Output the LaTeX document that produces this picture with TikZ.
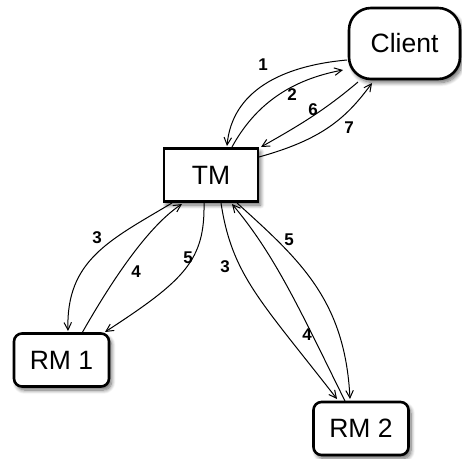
\documentclass[tikz,border=0pt]{standalone}
\usepackage{fontspec}
\setmainfont{Liberation Sans}
\usetikzlibrary{arrows.meta,shadows.blur}

\tikzset{
  box/.style={draw=black, line width=2.6pt, fill=white,
    font=\fontsize{26.5}{30}\selectfont, inner sep=0pt,
    blur shadow={shadow xshift=2.5pt, shadow yshift=-3.5pt,
      shadow blur radius=4pt, shadow blur steps=8, shadow opacity=60}},
  rmbox/.style={box, rounded corners=8pt, minimum width=95pt, minimum height=53pt},
  msg/.style={line width=1pt, -{Straight Barb[length=7.5pt,width=7.5pt,line width=1pt]}},
  num/.style={font=\fontsize{17}{19}\selectfont\bfseries, inner sep=0pt}
}

\begin{document}
\begin{tikzpicture}[x=1pt, y=-1pt]
  \useasboundingbox (0,0) rectangle (462,458);

  % participants
  \node[box, rounded corners=22pt, minimum width=111pt, minimum height=71pt]
    (client) at (404.5,43.5) {Client};
  \node[box, minimum width=94pt, minimum height=53pt] (tm) at (211,175) {TM};
  \node[rmbox] (rm1) at (61.5,360) {RM 1};
  \node[rmbox] (rm2) at (361,428.5) {RM 2};

  % anchor points on the box borders
  \coordinate (c1) at (347,60);
  \coordinate (c2) at (343,70);
  \coordinate (c6) at (358,82);
  \coordinate (c7) at (372,83);
  \coordinate (t1) at (227,146);
  \coordinate (t2) at (232,147);
  \coordinate (t6) at (261,147);
  \coordinate (t7) at (259,157);
  \coordinate (b3a) at (172,203);
  \coordinate (b4a) at (182,204);
  \coordinate (b5a) at (204,203);
  \coordinate (b3b) at (221,203);
  \coordinate (b4b) at (232,204);
  \coordinate (b5b) at (237,203);
  \coordinate (r13) at (68,331);
  \coordinate (r14) at (82,333);
  \coordinate (r15) at (105,332);
  \coordinate (r23) at (337,399);
  \coordinate (r24) at (345,401);
  \coordinate (r25) at (350,399);

  % client <-> TM
  \draw[msg] (c1) .. controls (280,66) and (232,92) .. (t1);
  \draw[msg] (t2) .. controls (255,105) and (290,80) .. (c2);
  \draw[msg] (c6) .. controls (325,110) and (300,125) .. (t6);
  \draw[msg] (t7) .. controls (320,140) and (345,120) .. (c7);

  % TM <-> RM 1
  \draw[msg] (b3a) .. controls (110,240) and (66,260) .. (r13);
  \draw[msg] (r14) .. controls (115,275) and (150,225) .. (b4a);
  \draw[msg] (b5a) .. controls (205,260) and (185,280) .. (r15);

  % TM <-> RM 2
  \draw[msg] (b3b) .. controls (232,275) and (260,300) .. (r23);
  \draw[msg] (r24) .. controls (300,310) and (275,255) .. (b4b);
  \draw[msg] (b5b) .. controls (300,260) and (345,300) .. (r25);

  % message numbers
  \node[num] (n1)  at (263,65)  {1};
  \node[num] (n2)  at (292,95)  {2};
  \node[num] (n6)  at (313,110) {6};
  \node[num] (n7)  at (349,128) {7};
  \node[num] (n3a) at (97,238)  {3};
  \node[num] (n4a) at (136,272) {4};
  \node[num] (n5a) at (188,258) {5};
  \node[num] (n3b) at (225,267) {3};
  \node[num] (n5b) at (289,240) {5};
  \node[num] (n4b) at (307,335) {4};
\end{tikzpicture}
\end{document}
